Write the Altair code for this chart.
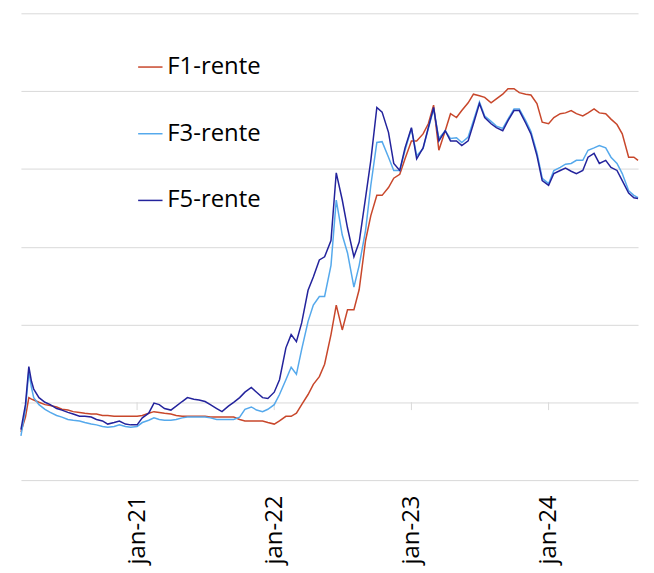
import altair as alt
import pandas as pd

# ---- sampling dates (semi-monthly grid, plus the early-2020 spike) ----
dates_2020 = ["2020-02-27", "2020-03-10", "2020-03-19", "2020-03-26"] + [
    f"2020-{m:02d}-{d:02d}" for m in range(4, 13) for d in (1, 15)
]
dates_mid = [f"{y}-{m:02d}-{d:02d}" for y in (2021, 2022, 2023) for m in range(1, 13) for d in (1, 15)]
dates_2024 = [f"2024-{m:02d}-{d:02d}" for m in range(1, 9) for d in (1, 15)] + ["2024-08-26"]
dates = dates_2020 + dates_mid + dates_2024

# ---- F1-rente (%) ----
f1_2020 = [-0.38, -0.19, 0.06, 0.04, 0.03, 0.00, -0.03, -0.04, -0.06, -0.09, -0.10, -0.12,
           -0.13, -0.14, -0.15, -0.15, -0.17, -0.17, -0.18, -0.18, -0.18, -0.18]
f1_2021 = [-0.18, -0.17, -0.14, -0.12, -0.13, -0.14, -0.15, -0.17, -0.18, -0.18, -0.18, -0.18,
           -0.18, -0.19, -0.19, -0.19, -0.19, -0.19, -0.22, -0.24, -0.24, -0.24, -0.24, -0.26]
f1_2022 = [-0.28, -0.24, -0.18, -0.18, -0.14, -0.03, 0.10, 0.23, 0.33, 0.49, 0.87, 1.25,
           0.93, 1.19, 1.19, 1.45, 2.08, 2.40, 2.66, 2.66, 2.76, 2.88, 2.93, 3.13]
f1_2023 = [3.36, 3.36, 3.45, 3.58, 3.82, 3.24, 3.49, 3.71, 3.66, 3.75, 3.85, 3.96,
           3.94, 3.92, 3.85, 3.90, 3.96, 4.03, 4.03, 3.98, 3.96, 3.95, 3.84, 3.60]
f1_2024 = [3.58, 3.66, 3.71, 3.72, 3.75, 3.71, 3.68, 3.72, 3.77, 3.72, 3.71, 3.64,
           3.57, 3.45, 3.15, 3.15, 3.11]

# ---- F3-rente (%) ----
f3_2020 = [-0.43, -0.09, 0.40, 0.19, 0.06, -0.03, -0.09, -0.13, -0.17, -0.19, -0.22, -0.23,
           -0.24, -0.26, -0.28, -0.29, -0.31, -0.32, -0.31, -0.29, -0.31, -0.32]
f3_2021 = [-0.31, -0.26, -0.23, -0.20, -0.22, -0.23, -0.23, -0.22, -0.20, -0.19, -0.19, -0.19,
           -0.19, -0.20, -0.22, -0.22, -0.22, -0.22, -0.19, -0.09, -0.06, -0.10, -0.12, -0.09]
f3_2022 = [-0.03, 0.10, 0.29, 0.45, 0.36, 0.68, 1.04, 1.25, 1.36, 1.36, 1.76, 2.60,
           2.15, 1.92, 1.48, 1.76, 2.21, 2.79, 3.34, 3.35, 3.15, 2.98, 2.98, 3.24]
f3_2023 = [3.52, 3.17, 3.26, 3.52, 3.77, 3.39, 3.49, 3.39, 3.40, 3.34, 3.41, 3.62,
           3.86, 3.68, 3.61, 3.55, 3.52, 3.64, 3.77, 3.77, 3.62, 3.48, 3.21, 2.88]
f3_2024 = [2.81, 2.98, 3.02, 3.06, 3.07, 3.11, 3.11, 3.24, 3.27, 3.30, 3.27, 3.15,
           3.07, 2.94, 2.72, 2.66, 2.63]

# ---- F5-rente (%) ----
f5_2020 = [-0.35, -0.03, 0.46, 0.27, 0.17, 0.06, 0.00, -0.03, -0.08, -0.10, -0.13, -0.15,
           -0.18, -0.18, -0.19, -0.22, -0.24, -0.28, -0.26, -0.24, -0.28, -0.29]
f5_2021 = [-0.29, -0.20, -0.14, -0.01, -0.03, -0.08, -0.10, -0.05, 0.01, 0.06, 0.04, 0.03,
           0.01, -0.03, -0.08, -0.12, -0.05, 0.00, 0.06, 0.13, 0.19, 0.13, 0.06, 0.05]
f5_2022 = [0.13, 0.29, 0.70, 0.87, 0.78, 1.02, 1.44, 1.61, 1.83, 1.87, 2.08, 2.95,
           2.60, 2.24, 1.87, 2.06, 2.63, 3.11, 3.79, 3.73, 3.47, 3.07, 2.98, 3.27]
f5_2023 = [3.53, 3.13, 3.27, 3.53, 3.79, 3.36, 3.49, 3.36, 3.36, 3.30, 3.36, 3.58,
           3.84, 3.66, 3.58, 3.53, 3.49, 3.62, 3.75, 3.75, 3.59, 3.45, 3.17, 2.85]
f5_2024 = [2.79, 2.94, 2.98, 3.01, 2.97, 2.94, 2.98, 3.15, 3.20, 3.07, 3.11, 3.02,
           2.98, 2.85, 2.69, 2.63, 2.62]

series_names = ["F1-rente", "F3-rente", "F5-rente"]
series_colors = ["#C8472B", "#55A9EC", "#23239C"]
tick_dates = ["2021-01-01", "2022-01-01", "2023-01-01", "2024-01-01"]

f1 = f1_2020 + f1_2021 + f1_2022 + f1_2023 + f1_2024
f3 = f3_2020 + f3_2021 + f3_2022 + f3_2023 + f3_2024
f5 = f5_2020 + f5_2021 + f5_2022 + f5_2023 + f5_2024
assert len(f1) == len(f3) == len(f5) == len(dates), (len(f1), len(f3), len(f5), len(dates))

rows = []
for name, vals in zip(series_names, [f1, f3, f5]):
    for d, v in zip(dates, vals):
        rows.append({"dato": d, "rente": v, "serie": name})
df = pd.DataFrame(rows)
ticks_df = pd.DataFrame({"dato": tick_dates, "y0": [0] * 4, "y1": [-0.1] * 4})

x_scale = alt.Scale(type="utc", domain=["2020-02-27", "2024-08-26"], nice=False)
y_scale = alt.Scale(domain=[-1, 5], nice=False, zero=False)

lines = alt.Chart(df).mark_line(strokeWidth=1.5).encode(
    x=alt.X("dato:T", scale=x_scale,
            axis=alt.Axis(title=None, grid=False, domain=False, ticks=False,
                          values=[alt.DateTime(year=y, month=1, date=1, utc=True) for y in (2021, 2022, 2023, 2024)],
                          labelExpr="'jan-' + utcFormat(datum.value, '%y')",
                          labelAngle=270, labelFontSize=24, labelFont="Open Sans",
                          labelColor="#000000", labelPadding=15)),
    y=alt.Y("rente:Q", scale=y_scale,
            axis=alt.Axis(title=None, labels=False, ticks=False, domain=False,
                          values=[-1, 0, 1, 2, 3, 4, 5], grid=True,
                          gridColor="#D9D9D9", gridWidth=1)),
    color=alt.Color("serie:N", sort=series_names,
                    scale=alt.Scale(domain=series_names, range=series_colors),
                    legend=alt.Legend(title=None, orient="none", legendX=117, legendY=41,
                                      symbolType="stroke", symbolSize=600, symbolStrokeWidth=1.5,
                                      labelFontSize=24, labelFont="Open Sans", labelColor="#000000",
                                      labelOffset=4, rowPadding=42, padding=0)),
    order=alt.Order("serie:N"),
)

tick_marks = alt.Chart(ticks_df).mark_rule(color="#D9D9D9", strokeWidth=1).encode(
    x=alt.X("dato:T", scale=x_scale),
    y=alt.Y("y0:Q", scale=y_scale),
    y2="y1:Q",
)

chart = alt.layer(tick_marks, lines).properties(
    width=620, height=469,
    padding={"left": 10, "top": 4, "right": 5, "bottom": 5},
    background="white",
).configure_view(stroke=None)

chart.save("out.html", embed_options={"renderer": "svg", "actions": False})
